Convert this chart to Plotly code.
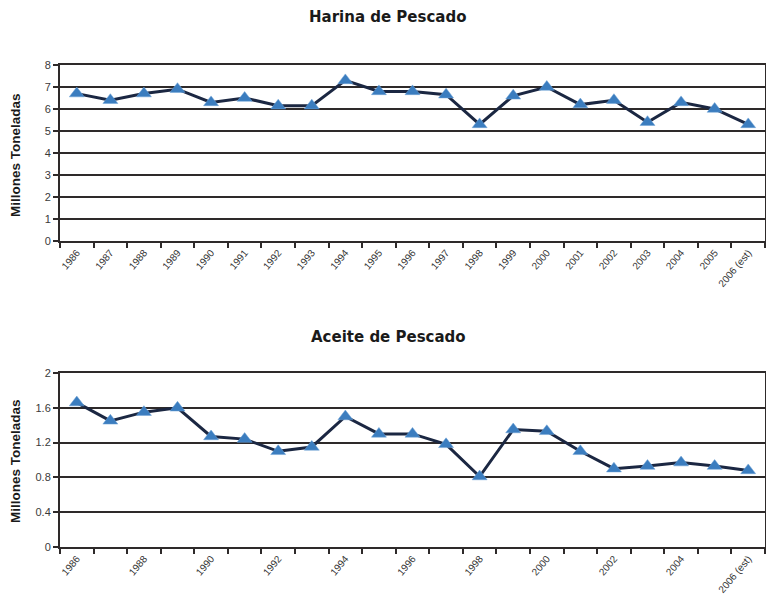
import plotly.graph_objects as go

years = ["1986", "1987", "1988", "1989", "1990", "1991", "1992", "1993", "1994", "1995",
         "1996", "1997", "1998", "1999", "2000", "2001", "2002", "2003", "2004", "2005",
         "2006 (est)"]
harina = [6.7, 6.4, 6.7, 6.9, 6.3, 6.5, 6.15, 6.15, 7.3, 6.8,
          6.8, 6.65, 5.3, 6.6, 7.0, 6.2, 6.4, 5.4, 6.3, 6.0, 5.3]
aceite = [1.66, 1.45, 1.55, 1.60, 1.27, 1.24, 1.10, 1.15, 1.50, 1.30,
          1.30, 1.18, 0.81, 1.35, 1.33, 1.10, 0.90, 0.93, 0.97, 0.93, 0.88]
bottom_labels = [y if i % 2 == 0 else "" for i, y in enumerate(years)]
top_yticks = [0, 1, 2, 3, 4, 5, 6, 7, 8]
bottom_yticks = [0, 0.4, 0.8, 1.2, 1.6, 2]
bottom_ytext = ["0", "0.4", "0.8", "1.2", "1.6", "2"]

title_top = "Harina de Pescado"
title_bottom = "Aceite de Pescado"
y_title = "Millones Toneladas"

W, H = 766, 605
L, R = 60, 1
def py(p):
    return (H - p) / H

line_col = "#1b2742"
mark_col = "#3b7dbf"
grid_col = "#2e2a2a"
font_fam = "Liberation Sans, Arial, sans-serif"

fig = go.Figure()
for vals, xa, ya in [(harina, "x", "y"), (aceite, "x2", "y2")]:
    fig.add_trace(go.Scatter(
        x=years, y=vals, xaxis=xa, yaxis=ya, mode="lines+markers",
        line=dict(color=line_col, width=3),
        marker=dict(symbol="triangle-up", size=13, color=mark_col,
                    line=dict(color="#6fa3d6", width=0.5)),
        showlegend=False, hoverinfo="x+y"))

xcommon = dict(type="category", tickson="boundaries", ticks="outside", ticklen=5,
               tickwidth=2, tickcolor=grid_col, showline=True, linecolor=grid_col,
               linewidth=2, mirror=True, showgrid=False, tickangle=-50,
               range=[-0.5, len(years) - 0.5],
               tickfont=dict(family=font_fam, size=10, color="#333333"),
               automargin=False, fixedrange=True)
ycommon = dict(showline=True, linecolor=grid_col, linewidth=2, mirror=True,
               showgrid=True, gridcolor=grid_col, gridwidth=2, ticks="outside",
               ticklen=5, tickwidth=2, tickcolor=grid_col, zeroline=False,
               tickfont=dict(family=font_fam, size=11, color="#3a3a3a"),
               automargin=False, fixedrange=True)

fig.update_layout(
    width=W, height=H,
    margin=dict(l=L, r=R, t=0, b=0),
    paper_bgcolor="white", plot_bgcolor="white",
    xaxis=dict(xcommon, domain=[0, 1], anchor="y",
               tickmode="array", tickvals=years, ticktext=years),
    yaxis=dict(ycommon, domain=[py(241), py(65)], anchor="x",
               range=[0, 8], tickmode="array", tickvals=top_yticks),
    xaxis2=dict(xcommon, domain=[0, 1], anchor="y2",
                tickmode="array", tickvals=years, ticktext=bottom_labels),
    yaxis2=dict(ycommon, domain=[py(547), py(373)], anchor="x2",
                range=[0, 2], tickmode="array", tickvals=bottom_yticks,
                ticktext=bottom_ytext),
)

def px_x(p):
    return (p - L) / (W - L - R)

ann = [
    dict(text="<b>%s</b>" % title_top, x=px_x(388), y=py(17),
         font=dict(family="DejaVu Sans, sans-serif", size=15, color="#1a1a1a")),
    dict(text="<b>%s</b>" % title_bottom, x=px_x(388), y=py(337),
         font=dict(family="DejaVu Sans, sans-serif", size=15, color="#1a1a1a")),
    dict(text="<b>%s</b>" % y_title, x=px_x(15), y=py(155), textangle=-90,
         font=dict(family=font_fam, size=13.5, color="#1a1a1a")),
    dict(text="<b>%s</b>" % y_title, x=px_x(15), y=py(461), textangle=-90,
         font=dict(family=font_fam, size=13.5, color="#1a1a1a")),
]
for a in ann:
    fig.add_annotation(xref="paper", yref="paper", showarrow=False,
                       xanchor="center", yanchor="middle", **a)

fig.write_html("out.html", config={"displayModeBar": False},
               post_script="document.body.style.margin='0';document.body.style.overflow='hidden';")
